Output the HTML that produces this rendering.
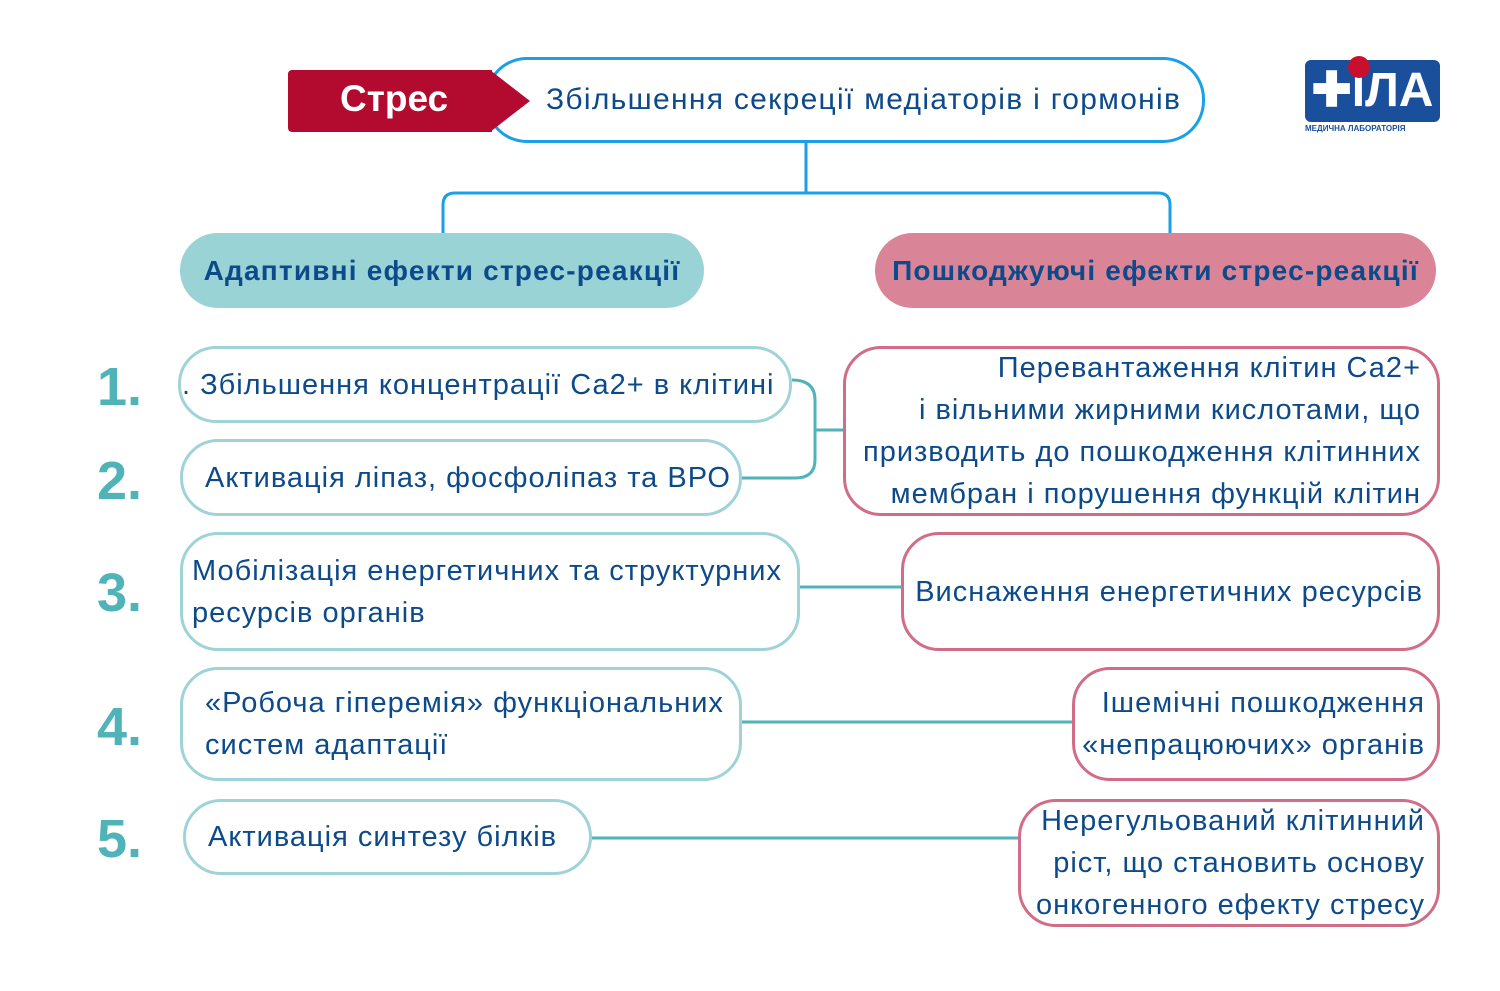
<!DOCTYPE html><html><head><meta charset="utf-8"><style>
body{margin:0;width:1500px;height:991px;background:#fff;position:relative;overflow:hidden;font-family:"Liberation Sans",sans-serif;color:#0d4a8a}
.b{position:absolute;box-sizing:border-box;border-radius:38px;font-size:29px;letter-spacing:1px;line-height:42px;display:flex;flex-direction:column;justify-content:center;white-space:nowrap}
.l{border:3px solid #9fd3d8;padding-left:22px}
.r{border:3px solid #d26d88;text-align:right;padding-right:16px}
.n{position:absolute;left:97px;font-size:54px;font-weight:bold;color:#4fb3b8}
.h{font-weight:bold;font-size:28px;letter-spacing:1.2px;align-items:center}
</style></head><body>
<svg width="1500" height="991" style="position:absolute;left:0;top:0">
<path d="M806 143V193M443 233V205Q443 193 455 193H1158Q1170 193 1170 205V233" stroke="#1aa0e8" stroke-width="3" fill="none"/>
<g stroke="#4fb3b8" stroke-width="3" fill="none">
<path d="M792 380Q815 380 815 400V460Q815 478 795 478H742M815 430H843"/>
<path d="M800 587H901M742 722H1072M592 838H1018"/>
</g>
</svg>
<div style="position:absolute;left:485px;top:57px;width:720px;height:86px;box-sizing:border-box;border:3px solid #1aa0e8;border-radius:42px;background:#fff;font-size:30px;letter-spacing:1.3px;padding-left:58px;line-height:80px;white-space:nowrap">Збільшення секреції медіаторів і гормонів</div>
<svg width="1500" height="991" style="position:absolute;left:0;top:0">
<rect x="288" y="70" width="20" height="62" rx="4" fill="#b30b2f"/>
<polygon points="296,70 490,70 530,101 490,132 296,132" fill="#b30b2f"/>
<rect x="478" y="70" width="14" height="62" fill="#b30b2f"/>
</svg>
<div style="position:absolute;left:340px;top:78px;color:#fff;font-size:37px;font-weight:bold">Стрес</div>
<div style="position:absolute;left:1305px;top:60px;width:135px;height:62px;background:#1a4f9c;border-radius:6px;color:#fff;font-size:48px;font-weight:bold;line-height:62px;text-align:center">✚ІЛА</div>
<div style="position:absolute;left:1348px;top:56px;width:22px;height:22px;border-radius:50%;background:#c8102e"></div>
<div style="position:absolute;left:1305px;top:124px;font-size:8px;font-weight:bold;color:#1a4f9c">МЕДИЧНА ЛАБОРАТОРІЯ</div>
<div class="b h" style="left:180px;top:233px;width:524px;height:75px;background:#9ad3d6">Адаптивні ефекти стрес-реакції</div>
<div class="b h" style="left:875px;top:233px;width:561px;height:75px;background:#d98497">Пошкоджуючі ефекти стрес-реакції</div>
<div class="n" style="top:356px">1.</div><div class="n" style="top:450px">2.</div><div class="n" style="top:562px">3.</div><div class="n" style="top:696px">4.</div><div class="n" style="top:808px">5.</div>
<div class="b l" style="left:178px;top:346px;width:614px;height:77px;padding-left:1px">. Збільшення концентрації Са2+ в клітині</div>
<div class="b l" style="left:180px;top:439px;width:562px;height:77px">Активація ліпаз, фосфоліпаз та ВРО</div>
<div class="b l" style="left:180px;top:532px;width:620px;height:119px;padding-left:9px">Мобілізація енергетичних та структурних<br>ресурсів органів</div>
<div class="b l" style="left:180px;top:667px;width:562px;height:114px">«Робоча гіперемія» функціональних<br>систем адаптації</div>
<div class="b l" style="left:183px;top:799px;width:409px;height:76px">Активація синтезу білків</div>
<div class="b r" style="left:843px;top:346px;width:597px;height:170px">Перевантаження клітин Са2+<br>і вільними жирними кислотами, що<br>призводить до пошкодження клітинних<br>мембран і порушення функцій клітин</div>
<div class="b r" style="left:901px;top:532px;width:539px;height:119px;padding-right:14px">Виснаження енергетичних ресурсів</div>
<div class="b r" style="left:1072px;top:667px;width:368px;height:114px;padding-right:12px">Ішемічні пошкодження<br>«непрацюючих» органів</div>
<div class="b r" style="left:1018px;top:799px;width:422px;height:128px;padding-right:12px">Нерегульований клітинний<br>ріст, що становить основу<br>онкогенного ефекту стресу</div>
</body></html>
